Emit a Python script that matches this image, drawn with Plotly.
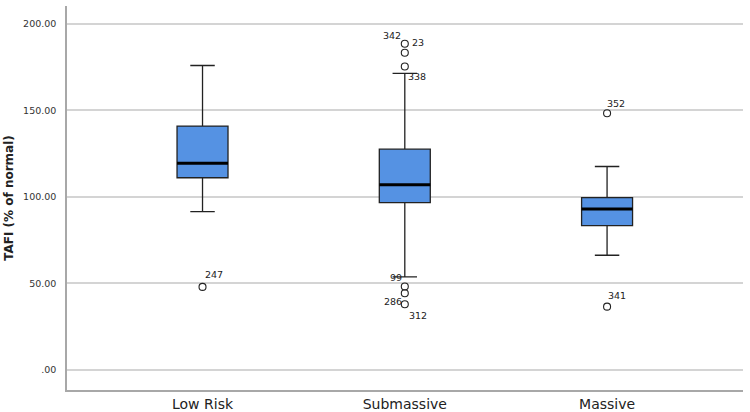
import plotly.graph_objects as go

# ---- data ----
categories = ["Low Risk", "Submassive", "Massive"]
q1 = [111.1, 96.7, 83.4]
median = [119.5, 107.0, 93.1]
q3 = [141.0, 127.6, 99.6]
lower_whisker = [91.5, 53.8, 66.3]
upper_whisker = [176.0, 171.5, 117.6]

outlier_group = [0, 1, 1, 1, 1, 1, 1, 2, 2]
outlier_values = [48.0, 188.6, 183.4, 175.4, 48.2, 44.3, 38.0, 148.4, 36.6]
outlier_ids = ["247", "342", "23", "338", "99", "286", "312", "352", "341"]

y_tickvals = [0, 50, 100, 150, 200]
y_ticktext = [".00", "50.00", "100.00", "150.00", "200.00"]

# ---- styles ----
box_width = 0.252
label_shift = [(11, 12), (-13, 8), (13, 10), (12, -10), (-9, 9), (-12, -8), (13, -11), (9, 10), (10, 11)]
fill = "#5592E3"
font_family = "DejaVu Sans"

xpos = list(range(len(categories)))

fig = go.Figure()
fig.add_trace(go.Box(
    x=xpos, q1=q1, median=median, q3=q3,
    lowerfence=lower_whisker, upperfence=upper_whisker,
    width=box_width, whiskerwidth=0.48,
    fillcolor=fill, line=dict(color="#222222", width=1.3),
    boxpoints=False, showlegend=False, hoverinfo="skip",
))

# thick median lines
for i, m in enumerate(median):
    fig.add_trace(go.Scatter(
        x=[xpos[i] - box_width / 2, xpos[i] + box_width / 2], y=[m, m],
        mode="lines", line=dict(color="black", width=3),
        showlegend=False, hoverinfo="skip",
    ))

# outliers
fig.add_trace(go.Scatter(
    x=[xpos[g] for g in outlier_group], y=outlier_values,
    mode="markers",
    marker=dict(symbol="circle-open", size=7, color="#222222", line=dict(width=1.1)),
    showlegend=False, hoverinfo="skip",
))

for g, v, lab, (dx, dy) in zip(outlier_group, outlier_values, outlier_ids, label_shift):
    fig.add_annotation(
        x=xpos[g], y=v, text=lab, showarrow=False,
        xshift=dx, yshift=dy,
        font=dict(family=font_family, size=9.5, color="#222222"),
    )

fig.update_layout(
    width=750, height=412,
    margin=dict(l=67, r=7, t=6, b=22),
    paper_bgcolor="white", plot_bgcolor="white",
    font=dict(family=font_family, color="#222222"),
)
fig.update_xaxes(
    range=[-0.67, 2.672], tickvals=xpos, ticktext=categories, automargin=False,
    showgrid=False, zeroline=False, showline=True, linecolor="#a8a8a8", linewidth=1.5,
    ticks="", ticklabelstandoff=0,
    tickfont=dict(size=14, family=font_family, color="#222222"),
)
fig.update_yaxes(
    range=[-11.6, 210.4], tickvals=y_tickvals, ticktext=y_ticktext, automargin=False,
    showgrid=True, gridcolor="#d4d4d4", gridwidth=1.5, zeroline=False,
    showline=True, linecolor="#a8a8a8", linewidth=1.5,
    ticks="", ticklabelstandoff=7,
    tickfont=dict(size=9.5, family=font_family, color="#333333"),
    title=dict(text="<b>TAFI (% of normal)</b>", font=dict(size=12, family=font_family, color="#222222"), standoff=7),
)

fig.write_html(
    "out.html",
    config={"displayModeBar": False},
    post_script="document.body.style.margin='0';document.body.style.padding='0';",
)
